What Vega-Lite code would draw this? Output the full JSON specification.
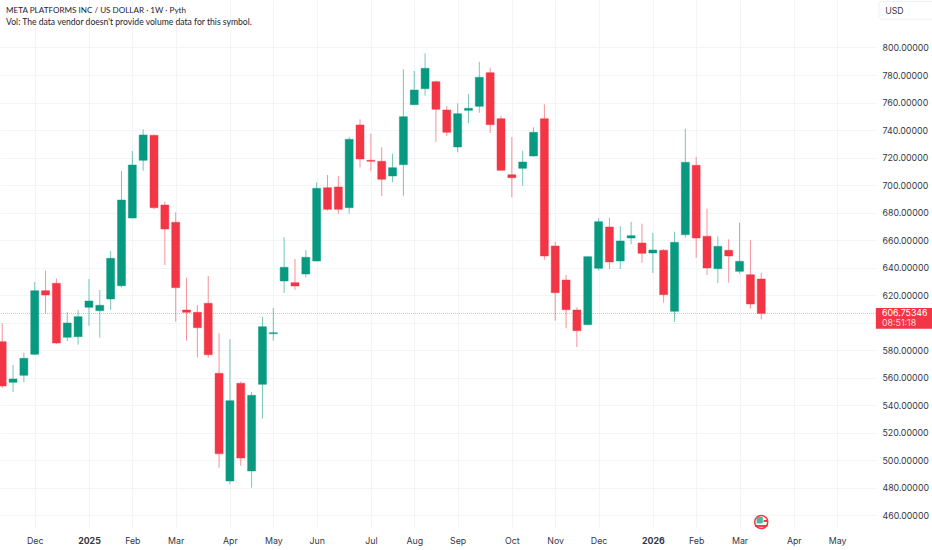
{
  "$schema": "https://vega.github.io/schema/vega-lite/v6.json",
  "width": 876,
  "height": 528,
  "autosize": {"type": "none"},
  "padding": {"left": 0, "top": 0, "right": 56, "bottom": 22},
  "background": "#ffffff",
  "view": {"stroke": null},
  "datasets": {
    "candles": [
      {"week": "2024-11-11", "open": 586.19, "high": 599.56, "low": 552.55, "close": 554.0},
      {"week": "2024-11-18", "open": 556.69, "high": 569.26, "low": 549.64, "close": 559.09},
      {"week": "2024-11-25", "open": 561.77, "high": 578.2, "low": 556.69, "close": 574.13},
      {"week": "2024-12-02", "open": 577.04, "high": 629.58, "low": 576.53, "close": 623.26},
      {"week": "2024-12-09", "open": 623.26, "high": 637.79, "low": 606.83, "close": 620.13},
      {"week": "2024-12-16", "open": 628.63, "high": 632.12, "low": 584.52, "close": 585.25},
      {"week": "2024-12-23", "open": 589.39, "high": 607.56, "low": 586.7, "close": 599.78},
      {"week": "2024-12-30", "open": 589.83, "high": 609.23, "low": 584.01, "close": 604.36},
      {"week": "2025-01-06", "open": 611.19, "high": 631.76, "low": 597.82, "close": 615.77},
      {"week": "2025-01-13", "open": 608.72, "high": 623.77, "low": 589.1, "close": 612.65},
      {"week": "2025-01-20", "open": 617.22, "high": 652.11, "low": 609.23, "close": 646.8},
      {"week": "2025-01-27", "open": 626.89, "high": 710.25, "low": 625.73, "close": 689.17},
      {"week": "2025-02-03", "open": 676.09, "high": 724.78, "low": 675.73, "close": 714.61},
      {"week": "2025-02-10", "open": 718.02, "high": 740.55, "low": 710.47, "close": 736.41},
      {"week": "2025-02-17", "open": 736.19, "high": 736.77, "low": 682.41, "close": 683.58},
      {"week": "2025-02-24", "open": 685.54, "high": 687.94, "low": 641.93, "close": 668.1},
      {"week": "2025-03-03", "open": 672.97, "high": 680.23, "low": 600.73, "close": 625.44},
      {"week": "2025-03-10", "open": 609.23, "high": 632.7, "low": 586.92, "close": 607.56},
      {"week": "2025-03-17", "open": 607.56, "high": 612.86, "low": 574.85, "close": 596.36},
      {"week": "2025-03-24", "open": 614.1, "high": 633.94, "low": 574.35, "close": 576.75},
      {"week": "2025-03-31", "open": 563.23, "high": 592.3, "low": 494.62, "close": 504.8},
      {"week": "2025-04-07", "open": 484.96, "high": 587.94, "low": 482.56, "close": 543.32},
      {"week": "2025-04-14", "open": 555.96, "high": 557.12, "low": 496.08, "close": 501.67},
      {"week": "2025-04-21", "open": 492.23, "high": 549.64, "low": 480.09, "close": 547.24},
      {"week": "2025-04-28", "open": 555.23, "high": 604.36, "low": 530.23, "close": 597.09},
      {"week": "2025-05-05", "open": 592.01, "high": 610.68, "low": 586.92, "close": 592.73},
      {"week": "2025-05-12", "open": 630.31, "high": 662.06, "low": 621.59, "close": 640.26},
      {"week": "2025-05-19", "open": 629.07, "high": 646.29, "low": 623.98, "close": 626.67},
      {"week": "2025-05-26", "open": 635.39, "high": 652.83, "low": 632.99, "close": 647.53},
      {"week": "2025-06-02", "open": 644.84, "high": 702.03, "low": 644.48, "close": 697.67},
      {"week": "2025-06-09", "open": 698.11, "high": 707.34, "low": 681.4, "close": 682.41},
      {"week": "2025-06-16", "open": 698.62, "high": 706.61, "low": 679.22, "close": 682.41},
      {"week": "2025-06-23", "open": 683.58, "high": 735.17, "low": 679.22, "close": 733.28},
      {"week": "2025-06-30", "open": 743.68, "high": 747.82, "low": 712.94, "close": 718.97},
      {"week": "2025-07-07", "open": 718.02, "high": 737.36, "low": 710.25, "close": 717.3},
      {"week": "2025-07-14", "open": 717.3, "high": 727.47, "low": 692.08, "close": 704.22},
      {"week": "2025-07-21", "open": 706.61, "high": 722.82, "low": 702.03, "close": 712.65},
      {"week": "2025-07-28", "open": 714.83, "high": 784.16, "low": 692.3, "close": 749.71},
      {"week": "2025-08-04", "open": 758.43, "high": 782.92, "low": 758.21, "close": 769.11},
      {"week": "2025-08-11", "open": 770.06, "high": 795.79, "low": 764.97, "close": 784.88},
      {"week": "2025-08-18", "open": 775.15, "high": 775.87, "low": 731.54, "close": 755.09},
      {"week": "2025-08-25", "open": 754.58, "high": 757.49, "low": 735.68, "close": 738.37},
      {"week": "2025-09-01", "open": 727.69, "high": 759.45, "low": 723.84, "close": 751.89},
      {"week": "2025-09-08", "open": 754.36, "high": 766.21, "low": 744.91, "close": 755.81},
      {"week": "2025-09-15", "open": 757.27, "high": 789.68, "low": 752.62, "close": 778.34},
      {"week": "2025-09-22", "open": 781.69, "high": 785.32, "low": 737.86, "close": 743.9},
      {"week": "2025-09-29", "open": 748.26, "high": 750.22, "low": 710.39, "close": 710.76},
      {"week": "2025-10-06", "open": 707.56, "high": 734.96, "low": 691.13, "close": 705.38},
      {"week": "2025-10-13", "open": 712.21, "high": 725.0, "low": 699.56, "close": 716.79},
      {"week": "2025-10-20", "open": 721.15, "high": 742.01, "low": 720.64, "close": 738.37},
      {"week": "2025-10-27", "open": 748.26, "high": 758.72, "low": 645.79, "close": 648.47},
      {"week": "2025-11-03", "open": 655.74, "high": 658.87, "low": 601.45, "close": 621.8},
      {"week": "2025-11-10", "open": 631.03, "high": 634.67, "low": 595.93, "close": 609.45},
      {"week": "2025-11-17", "open": 609.23, "high": 611.19, "low": 582.34, "close": 594.19},
      {"week": "2025-11-24", "open": 598.55, "high": 648.33, "low": 598.19, "close": 647.97},
      {"week": "2025-12-01", "open": 639.54, "high": 675.87, "low": 637.79, "close": 673.4},
      {"week": "2025-12-08", "open": 669.55, "high": 676.31, "low": 639.03, "close": 644.11},
      {"week": "2025-12-15", "open": 644.84, "high": 670.28, "low": 639.03, "close": 659.38},
      {"week": "2025-12-22", "open": 661.56, "high": 673.4, "low": 656.98, "close": 663.23},
      {"week": "2025-12-29", "open": 657.92, "high": 671.95, "low": 643.61, "close": 650.44},
      {"week": "2026-01-05", "open": 650.65, "high": 665.19, "low": 636.12, "close": 652.83},
      {"week": "2026-01-12", "open": 652.62, "high": 653.56, "low": 614.54, "close": 620.35},
      {"week": "2026-01-19", "open": 608.29, "high": 666.13, "low": 600.51, "close": 658.43},
      {"week": "2026-01-26", "open": 663.95, "high": 740.99, "low": 661.77, "close": 716.57},
      {"week": "2026-02-02", "open": 714.39, "high": 720.42, "low": 647.02, "close": 661.56},
      {"week": "2026-02-09", "open": 662.79, "high": 682.85, "low": 634.67, "close": 639.75},
      {"week": "2026-02-16", "open": 639.24, "high": 662.79, "low": 628.85, "close": 655.52},
      {"week": "2026-02-23", "open": 652.62, "high": 660.61, "low": 629.07, "close": 648.47},
      {"week": "2026-03-02", "open": 637.35, "high": 672.67, "low": 635.61, "close": 644.62},
      {"week": "2026-03-09", "open": 634.88, "high": 659.88, "low": 610.18, "close": 613.59},
      {"week": "2026-03-16", "open": 631.76, "high": 636.34, "low": 602.47, "close": 606.75}
    ]
  },
  "layer": [
    {
      "data": {"values": [{"price": 606.75}]},
      "mark": {"type": "rule", "strokeWidth": 1, "strokeDash": [1, 1], "opacity": 0.4},
      "encoding": {
        "y": {
          "field": "price",
          "type": "quantitative",
          "title": null,
          "scale": {"domain": [450.8, 834.52], "nice": false, "zero": false},
          "axis": {
            "orient": "right",
            "values": [460, 480, 500, 520, 540, 560, 580, 600, 620, 640, 660, 680, 700, 720, 740, 760, 780, 800],
            "tickCount": 40,
            "format": ".5f",
            "domain": false,
            "ticks": false,
            "labelOverlap": false,
            "labelPadding": 6,
            "labelFont": "Inter",
            "labelFontSize": 8.8,
            "labelColor": "#333844",
            "gridColor": "#f3f4f6",
            "grid": true
          }
        },
        "color": {"value": "#f23645"}
      }
    },
    {
      "data": {"name": "candles"},
      "mark": {"type": "rule", "strokeWidth": 1, "opacity": 0.55},
      "encoding": {
        "x": {
          "field": "week",
          "type": "temporal",
          "title": null,
          "scale": {
            "type": "utc",
            "padding": 0,
            "domain": [
              {"year": 2024, "month": 11, "date": 9, "hours": 14, "utc": true},
              {"year": 2026, "month": 5, "date": 29, "hours": 2, "utc": true}
            ]
          },
          "axis": {
            "orient": "bottom",
            "values": [
              {"year": 2024, "month": 12, "date": 2, "utc": true},
              {"year": 2025, "month": 1, "date": 6, "utc": true},
              {"year": 2025, "month": 2, "date": 3, "utc": true},
              {"year": 2025, "month": 3, "date": 3, "utc": true},
              {"year": 2025, "month": 4, "date": 7, "utc": true},
              {"year": 2025, "month": 5, "date": 5, "utc": true},
              {"year": 2025, "month": 6, "date": 2, "utc": true},
              {"year": 2025, "month": 7, "date": 7, "utc": true},
              {"year": 2025, "month": 8, "date": 4, "utc": true},
              {"year": 2025, "month": 9, "date": 1, "utc": true},
              {"year": 2025, "month": 10, "date": 6, "utc": true},
              {"year": 2025, "month": 11, "date": 3, "utc": true},
              {"year": 2025, "month": 12, "date": 1, "utc": true},
              {"year": 2026, "month": 1, "date": 5, "utc": true},
              {"year": 2026, "month": 2, "date": 2, "utc": true},
              {"year": 2026, "month": 3, "date": 2, "utc": true},
              {"year": 2026, "month": 4, "date": 6, "utc": true},
              {"year": 2026, "month": 5, "date": 4, "utc": true}
            ],
            "labelExpr": "utcFormat(datum.value, '%m') == '01' ? utcFormat(datum.value, '%Y') : utcFormat(datum.value, '%b')",
            "labelFontWeight": {"condition": {"test": "utcFormat(datum.value, '%m') == '01'", "value": "bold"}, "value": "normal"},
            "domain": false,
            "ticks": false,
            "labelOverlap": false,
            "labelPadding": 8,
            "labelFont": "Inter",
            "labelFontSize": 8.8,
            "labelColor": "#333844",
            "labelFlush": false,
            "gridColor": "#f3f4f6",
            "grid": true
          }
        },
        "y": {"field": "low", "type": "quantitative"},
        "y2": {"field": "high"},
        "color": {"condition": {"test": "datum.close < datum.open", "value": "#f23645"}, "value": "#089981"}
      }
    },
    {
      "data": {"name": "candles"},
      "mark": {"type": "bar", "width": 8, "strokeWidth": 1, "strokeOpacity": 0.45},
      "encoding": {
        "x": {"field": "week", "type": "temporal"},
        "y": {"field": "open", "type": "quantitative"},
        "y2": {"field": "close"},
        "color": {"condition": {"test": "datum.close < datum.open", "value": "#f23645"}, "value": "#089981"},
        "stroke": {"condition": {"test": "datum.close < datum.open", "value": "#f23645"}, "value": "#089981"}
      }
    },
    {
      "data": {"values": [{"x0": "2026-05-29", "x1": "2026-07-10", "y0": 610.69, "y1": 595.64}]},
      "mark": {"type": "rect", "color": "#f23645", "clip": false},
      "encoding": {
        "x": {"field": "x0", "type": "temporal"},
        "x2": {"field": "x1"},
        "y": {"field": "y0", "type": "quantitative"},
        "y2": {"field": "y1"}
      }
    },
    {
      "data": {"values": [{"x0": "2026-05-31", "x1": "2026-07-10", "y0": 833.5, "y1": 820.5}]},
      "mark": {"type": "rect", "fill": "#ffffff", "stroke": "#eef0f3", "cornerRadius": 3, "clip": false},
      "encoding": {
        "x": {"field": "x0", "type": "temporal"},
        "x2": {"field": "x1"},
        "y": {"field": "y0", "type": "quantitative"},
        "y2": {"field": "y1"}
      }
    },
    {
      "data": {
        "values": [
          {"x": "2026-06-02", "y": 607.2, "label": "606.75346", "color": "#ffffff"},
          {"x": "2026-06-02", "y": 599.7, "label": "08:51:18", "color": "#ffd6da"},
          {"x": "2026-06-04", "y": 826.8, "label": "USD", "color": "#333844"}
        ]
      },
      "mark": {"type": "text", "align": "left", "baseline": "middle", "font": "Inter", "fontSize": 8.8, "clip": false},
      "encoding": {
        "x": {"field": "x", "type": "temporal"},
        "y": {"field": "y", "type": "quantitative"},
        "text": {"field": "label"},
        "color": {"field": "color", "type": "nominal", "scale": null}
      }
    },
    {
      "data": {
        "values": [
          {"x": "2024-11-13T12:00:00Z", "y": 826.6, "label": "META PLATFORMS INC / US DOLLAR · 1W · Pyth", "weight": "bold", "size": 8.1},
          {"x": "2024-11-13T12:00:00Z", "y": 818.2, "label": "Vol: The data vendor doesn't provide volume data for this symbol.", "weight": "normal", "size": 8.6}
        ]
      },
      "mark": {"type": "text", "align": "left", "baseline": "middle", "font": "Lato", "color": "#1e222d"},
      "encoding": {
        "x": {"field": "x", "type": "temporal"},
        "y": {"field": "y", "type": "quantitative"},
        "text": {"field": "label"},
        "fontWeight": {"field": "weight", "type": "nominal", "scale": null},
        "size": {"field": "size", "type": "quantitative", "scale": null}
      }
    },
    {
      "data": {"values": [{"x": "2026-03-16", "y": 455.16}]},
      "mark": {"type": "point", "filled": false, "fill": "#ffffff", "fillOpacity": 1, "stroke": "#f23645", "strokeWidth": 1.5, "size": 170, "clip": false},
      "encoding": {
        "x": {"field": "x", "type": "temporal"},
        "y": {"field": "y", "type": "quantitative"}
      }
    },
    {
      "data": {
        "values": [
          {"x0": "2026-03-13", "x1": "2026-03-17", "y0": 458.8, "y1": 454.1, "color": "#4fb8a3"},
          {"x0": "2026-03-17T12:00:00Z", "x1": "2026-03-20", "y0": 456.6, "y1": 455.2, "color": "#f23645"},
          {"x0": "2026-03-12", "x1": "2026-03-20", "y0": 453.0, "y1": 451.6, "color": "#f23645"}
        ]
      },
      "mark": {"type": "rect", "clip": false},
      "encoding": {
        "x": {"field": "x0", "type": "temporal"},
        "x2": {"field": "x1"},
        "y": {"field": "y0", "type": "quantitative"},
        "y2": {"field": "y1"},
        "color": {"field": "color", "type": "nominal", "scale": null}
      }
    }
  ]
}
